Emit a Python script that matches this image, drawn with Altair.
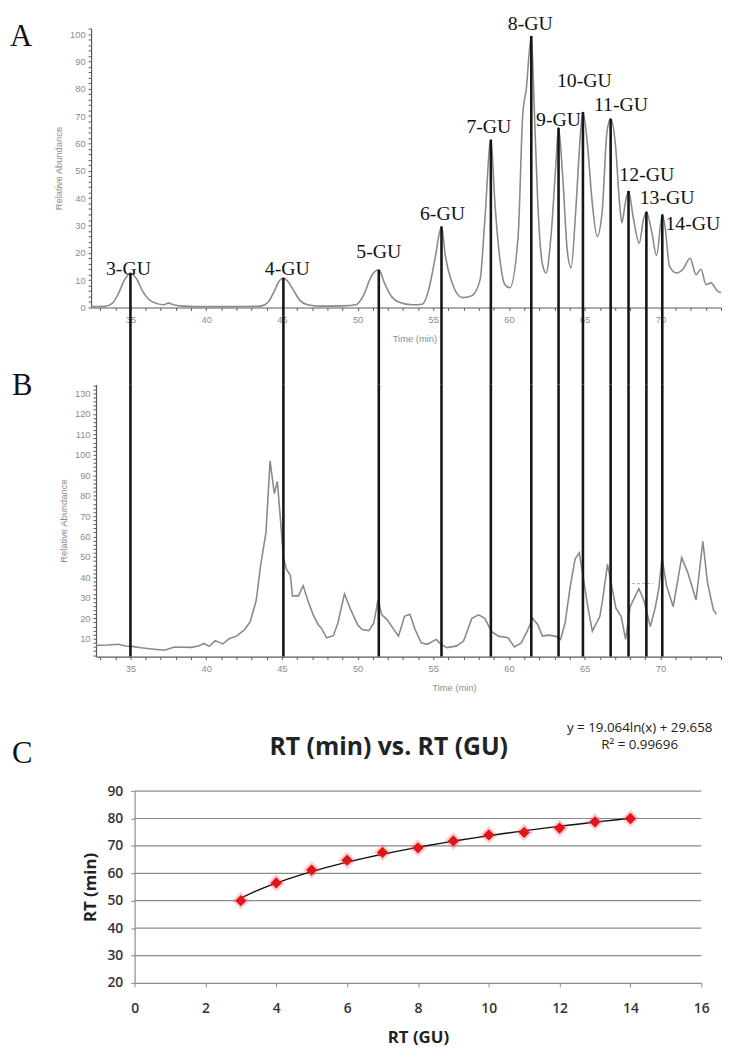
import altair as alt
import pandas as pd

# ---------------- data ----------------
# Panel A: chromatogram of the dextran ladder
a_time = [32.4, 33.3, 33.8, 34.2, 34.6, 35.0, 35.4, 35.8, 36.2, 36.7, 37.2, 37.5, 37.9, 38.5, 40.0, 42.0,
          43.6, 44.1, 44.5, 44.8, 45.1, 45.4, 45.8, 46.2, 46.7, 47.5, 49.0, 49.9, 50.4, 50.9, 51.4, 51.77,
          52.2, 52.75, 53.6, 54.27, 54.7, 55.14, 55.54, 55.8, 56.24, 56.9, 57.54, 58.09, 58.4, 58.8, 59.07,
          59.4, 59.72, 60.05, 60.6, 60.9, 61.14, 61.47, 61.68, 61.9, 62.2, 62.45, 62.77, 63.1, 63.27, 63.53,
          63.86, 64.1, 64.4, 64.73, 64.88, 65.17, 65.5, 65.82, 66.15, 66.47, 66.71, 67.02, 67.3, 67.45,
          67.67, 67.89, 68.2, 68.6, 68.87, 69.07, 69.41, 69.74, 70.12, 70.29, 70.6, 71.05, 71.48, 71.96,
          72.35, 72.68, 73.0, 73.33, 73.77, 74.0]
a_abund = [0.3, 0.4, 1.5, 5, 10, 12.6, 10.5, 6, 3, 1.5, 1.0, 1.6, 0.9, 0.5, 0.3, 0.3,
           0.5, 2, 6, 9.5, 10.8, 9.5, 6, 2.5, 1, 0.5, 0.6, 1, 4.5, 11.4, 13.8, 9,
           4.3, 1.9, 1.0, 1.2, 6.6, 18.7, 29.6, 18.7, 9, 3.6, 4.3, 10.2, 31.8, 61.4, 38,
           17.5, 8.4, 7.2, 26, 70, 80, 99.3, 70.5, 38, 16, 12.6, 26, 53, 65.7, 49,
           20, 14.5, 35, 64.4, 71.5, 60, 38, 26, 35, 64.4, 69, 60, 38, 31,
           38, 42.6, 33, 23.5, 32, 35, 28, 19, 34, 30, 15, 12.6, 14, 18,
           12, 14, 8.4, 9, 6, 5.5]

# Panel B: sample chromatogram
b_time = [32.73, 33.5, 34.2, 34.7, 35.1, 35.7, 36.4, 37.25, 37.9, 38.5, 39.0, 39.5, 39.85, 40.2, 40.6,
          41.1, 41.55, 42.0, 42.5, 42.9, 43.3, 43.6, 43.95, 44.22, 44.5, 44.7, 44.9, 45.1, 45.3, 45.56,
          45.7, 46.1, 46.4, 46.75, 47.07, 47.4, 47.6, 47.95, 48.4, 48.7, 49.13, 49.56, 50.0, 50.3, 50.75,
          51.07, 51.35, 51.6, 51.93, 52.4, 52.7, 53.1, 53.45, 53.8, 54.2, 54.6, 55.2, 55.5, 55.9, 56.5,
          57.0, 57.55, 58.0, 58.4, 58.85, 59.3, 59.93, 60.36, 60.8, 61.2, 61.55, 61.9, 62.2, 62.6, 63.06,
          63.4, 63.7, 64.03, 64.36, 64.64, 64.9, 65.2, 65.5, 66.0, 66.2, 66.5, 66.8, 67.06, 67.4, 67.7,
          68.0, 68.57, 68.9, 69.33, 69.65, 69.9, 70.1, 70.4, 70.84, 71.4, 71.8, 72.35, 72.8, 73.1, 73.5, 73.7]
b_abund = [6.8, 7.0, 7.3, 6.5, 6.3, 5.6, 5.0, 4.4, 6.0, 5.9, 5.8, 6.5, 7.7, 6.3, 9.1,
           7.5, 10.2, 11.3, 14.2, 18.2, 28.6, 46, 62, 97, 81, 87, 69, 49.7, 44, 41,
           31, 31, 36, 28, 21.7, 16.9, 15.3, 10.5, 11.5, 17.7, 32, 24, 16.9, 14.5, 14,
           17.7, 29, 21.7, 19.5, 14.5, 11.3, 21, 22, 14.5, 8, 7.3, 9.7, 7.3, 5.7, 6.4,
           8.9, 20, 21.7, 20, 13.5, 11.3, 10.5, 6, 8, 13.7, 20, 16.9, 11.3, 11.8, 11.3,
           9.7, 17.7, 35, 49, 52, 40, 25.7, 13.7, 21, 30, 46.5, 35, 25, 21, 9.7,
           25.7, 34.5, 29, 16, 25, 35, 49.7, 36, 25.7, 49.7, 42.5, 29, 57.7, 37.7, 24, 22]
b_dash_time = [67.8, 69.5]
b_dash_value = [37, 37]

# Glucose-unit ladder peaks
gu_labels = ["3-GU", "4-GU", "5-GU", "6-GU", "7-GU", "8-GU", "9-GU", "10-GU", "11-GU", "12-GU", "13-GU", "14-GU"]
gu_time = [35.0, 45.1, 51.4, 55.54, 58.8, 61.47, 63.27, 64.88, 66.71, 67.89, 69.07, 70.12]
gu_peak = [12.6, 10.8, 13.8, 29.6, 61.4, 99.3, 65.7, 71.5, 69.0, 42.6, 35.0, 34.0]

# Panel C: calibration
c_gu = [3, 4, 5, 6, 7, 8, 9, 10, 11, 12, 13, 14]
c_rt = [50.0, 56.5, 61.2, 64.8, 67.6, 69.3, 71.8, 74.0, 74.9, 76.5, 78.8, 80.0]
c_grid = [30, 40, 50, 60, 70, 80, 90]
c_title = "RT (min) vs. RT (GU)"
eq_text = "y = 19.064ln(x) + 29.658"
r2_text = "R² = 0.99696"

# ---------------- layout / style ----------------
A_W, A_H = 637, 282
A_X = [32.4, 74.0]
A_Y = [0, 102]
PX_PER_MIN = A_W / (A_X[1] - A_X[0])
B_SHIFT = 5
B_X = [A_X[0] + B_SHIFT / PX_PER_MIN, 74.0]
B_H = 275
B_Y = [1.3, 134.3]
GAP = 20
SP1 = 38      # A plot bottom -> B plot top = GAP + SP1 + GAP
SP2 = 96      # B plot bottom -> C plot top = GAP + SP2 + GAP
C_SHIFT = 44
C_W, C_H = 573, 194

label_dx = [-2, 4, 0, 1, -2, -1, 0, 1.5, 10.5, 18.5, 21, 31]
label_dy = [1.5, -3.4, -12, -6.5, -7, -6.4, -1.6, -25.6, -7.5, -10, -8, 16]

TRACE = "#8a8a8a"
AX_LABEL = "#8c8c8c"
AX_LINE = "#5a5a5a"
SANS = "Liberation Sans"
SERIF = "Liberation Serif"
CFONT = "Open Sans"

df_a = pd.DataFrame({"t": a_time, "v": a_abund})
df_b = pd.DataFrame({"t": b_time, "v": b_abund})
df_dash = pd.DataFrame({"t": b_dash_time, "v": b_dash_value})
ext = -(GAP + SP1 + GAP) * (A_Y[1] - A_Y[0]) / A_H
df_gu = pd.DataFrame({"label": gu_labels, "t": gu_time, "h": gu_peak, "bottom": [ext] * len(gu_time)})
df_c = pd.DataFrame({"gu": c_gu, "rt": c_rt})
df_grid = pd.DataFrame({"g": c_grid})


def chrom_axes(xdom, xrange, ydom, yvals, title_x, yoff):
    xa = alt.Axis(values=list(range(33, 75)), labelExpr="datum.value % 5 == 0 ? datum.label : ''",
                  title="Time (min)", titleX=title_x, grid=False, labelOverlap=False, labelFlush=False,
                  tickSize=3, labelPadding=4, titlePadding=10,
                  labelFont=SANS, labelFontSize=9.5, labelColor=AX_LABEL,
                  titleFont=SANS, titleFontSize=9.5, titleFontWeight="normal", titleColor=AX_LABEL,
                  domainColor=AX_LINE, tickColor=AX_LINE, domainWidth=1.2)
    ya = alt.Axis(values=yvals, labelExpr="datum.value % 10 == 0 ? datum.label : ''",
                  title="Relative Abundance", grid=False, labelOverlap=False, labelFlush=False,
                  tickSize=3, labelPadding=3, titlePadding=6, offset=yoff,
                  labelFont=SANS, labelFontSize=9.5, labelColor=AX_LABEL,
                  titleFont=SANS, titleFontSize=9.5, titleFontWeight="normal", titleColor=AX_LABEL,
                  domainColor=AX_LINE, tickColor=AX_LINE, domainWidth=1.2)
    xs = alt.Scale(domain=xdom, range=xrange, nice=False, zero=False)
    ys = alt.Scale(domain=ydom, nice=False, zero=False)
    return xs, ys, xa, ya


def panel_letter(letter, dx, dy):
    return alt.Chart(pd.DataFrame({"s": [letter]})).mark_text(
        font=SERIF, fontSize=31, align="left", baseline="alphabetic", x=dx, y=dy, color="#111"
    ).encode(text="s:N")


def spacer(h):
    return alt.Chart(pd.DataFrame({"s": [0]})).mark_point(opacity=0).encode(
        x=alt.X("s:Q", axis=None), y=alt.Y("s:Q", axis=None)
    ).properties(width=10, height=h)


# ---------------- panel A ----------------
axs, ays, axa, aya = chrom_axes(A_X, [0, A_W], A_Y, list(range(0, 103, 2)), 419 - 92, 0)
a_line = alt.Chart(df_a).mark_line(color=TRACE, strokeWidth=1.6, interpolate="monotone").encode(
    x=alt.X("t:Q", scale=axs, axis=axa), y=alt.Y("v:Q", scale=ays, axis=aya))
a_rules = alt.Chart(df_gu).mark_rule(color="#151515", strokeWidth=2.6).encode(
    x=alt.X("t:Q", scale=axs, axis=axa), y=alt.Y("h:Q", scale=ays, axis=aya), y2="bottom:Q")
a_labels = []
for i in range(len(gu_labels)):
    a_labels.append(
        alt.Chart(df_gu.iloc[[i]]).mark_text(font=SERIF, fontSize=20, align="center", baseline="alphabetic",
                                              dx=label_dx[i], dy=label_dy[i], color="#111").encode(
            x=alt.X("t:Q", scale=axs, axis=axa), y=alt.Y("h:Q", scale=ays, axis=aya), text="label:N"))
panel_a = alt.layer(a_line, a_rules, *a_labels, panel_letter("A", -82, 17.7)).properties(width=A_W, height=A_H)

# ---------------- panel B ----------------
bxs, bys, bxa, bya = chrom_axes(B_X, [B_SHIFT, A_W], B_Y, list(range(2, 135, 2)), 459 - 92, -B_SHIFT)
b_line = alt.Chart(df_b).mark_line(color=TRACE, strokeWidth=1.6).encode(
    x=alt.X("t:Q", scale=bxs, axis=bxa), y=alt.Y("v:Q", scale=bys, axis=bya))
b_dash = alt.Chart(df_dash).mark_line(color="#b0b0b0", strokeWidth=1, strokeDash=[3, 2]).encode(
    x=alt.X("t:Q", scale=bxs, axis=bxa), y=alt.Y("v:Q", scale=bys, axis=bya))
b_rules = alt.Chart(df_gu).mark_rule(color="#151515", strokeWidth=2.6).encode(
    x=alt.X("t:Q", scale=bxs, axis=bxa),
    y=alt.Y(datum=B_Y[0], scale=bys, axis=bya), y2=alt.datum(B_Y[1]))
panel_b = alt.layer(b_line, b_dash, b_rules, panel_letter("B", -80, 10)).properties(width=A_W, height=B_H)

# ---------------- panel C ----------------
cxs = alt.Scale(domain=[0, 16], range=[C_SHIFT, C_SHIFT + C_W], nice=False, zero=False)
cys = alt.Scale(domain=[20, 90], nice=False, zero=False)
cxa = alt.Axis(values=list(range(0, 17, 2)), title="RT (GU)", grid=False, labelFlush=False, labelOverlap=False,
               tickSize=4, labelPadding=15, titlePadding=14,
               labelFont=CFONT, labelFontSize=14, labelFontWeight=600, labelColor="#333",
               titleFont=CFONT, titleFontSize=17, titleFontWeight="bold", titleColor="#222",
               domainColor="#8c8c8c", tickColor="#8c8c8c", domainWidth=1.2)
cya = alt.Axis(values=list(range(20, 91, 10)), title="RT (min)", grid=False, offset=-C_SHIFT,
               labelOverlap=False, labelFlush=False,
               tickSize=4, labelPadding=8, titlePadding=8,
               labelFont=CFONT, labelFontSize=14, labelFontWeight=600, labelColor="#333",
               titleFont=CFONT, titleFontSize=17, titleFontWeight="bold", titleColor="#222",
               domainColor="#8c8c8c", tickColor="#8c8c8c", domainWidth=1.2)
c_gridlines = alt.Chart(df_grid).mark_rule(color="#8c8c8c", strokeWidth=1.2).encode(
    y=alt.Y("g:Q", scale=cys, axis=cya),
    x=alt.X(datum=0, scale=cxs, axis=cxa), x2=alt.datum(16))
base_c = alt.Chart(df_c).encode(x=alt.X("gu:Q", scale=cxs, axis=cxa), y=alt.Y("rt:Q", scale=cys, axis=cya))
c_trend = base_c.transform_regression("gu", "rt", method="log").mark_line(color="#111", strokeWidth=1.4)
c_glow = base_c.mark_point(shape="diamond", filled=True, size=320, color="#ff5050", opacity=0.28)
c_pts = base_c.mark_point(shape="diamond", filled=True, size=130, color="#e0141b", opacity=1)
c_title_mark = alt.Chart(pd.DataFrame({"s": [c_title]})).mark_text(
    font=CFONT, fontSize=25, fontWeight="bold", align="center", baseline="alphabetic",
    x=C_SHIFT + C_W / 2 - 29.5, y=-36, color="#222").encode(text="s:N")
c_eq = alt.Chart(pd.DataFrame({"s": [eq_text]})).mark_text(
    font=CFONT, fontSize=13.5, align="center", baseline="middle", x=C_SHIFT + 510.7, y=-64,
    color="#222").encode(text="s:N")
c_r2 = alt.Chart(pd.DataFrame({"s": [r2_text]})).mark_text(
    font=CFONT, fontSize=13.5, align="center", baseline="middle", x=C_SHIFT + 510.7, y=-47,
    color="#222").encode(text="s:N")
panel_c = alt.layer(c_gridlines, c_trend, c_glow, c_pts, c_title_mark, c_eq, c_r2,
                    panel_letter("C", -80, -28)).properties(width=C_SHIFT + C_W, height=C_H)

chart = alt.vconcat(panel_a, spacer(SP1), panel_b, spacer(SP2), panel_c,
                    spacing=GAP, bounds="flush").properties(
    padding={"left": 2, "top": 0, "right": 0, "bottom": 0}, background="white"
).configure_view(stroke=None)

chart.save("out.html", embed_options={"renderer": "svg", "actions": False})
